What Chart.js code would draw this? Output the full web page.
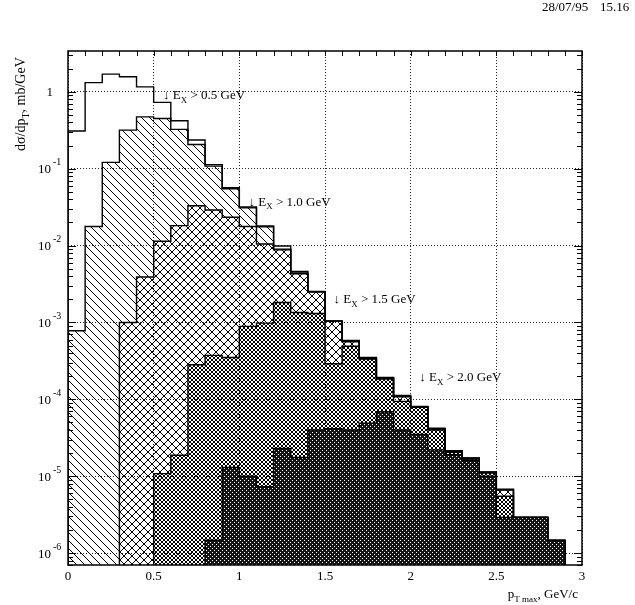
<!DOCTYPE html>
<html>
<head>
<meta charset="utf-8">
<title>pT max spectra</title>
<script src="https://cdn.jsdelivr.net/npm/chart.js@4"></script>
<style>
  html, body { margin: 0; padding: 0; background: #fff; }
</style>
</head>
<body>
<canvas id="chart" width="635" height="605"></canvas>
<script>
// bins of 0.1 GeV/c (left edges)
const binLeft = [0.0, 0.1, 0.2, 0.3, 0.4, 0.5, 0.6, 0.7, 0.8, 0.9,
                 1.0, 1.1, 1.2, 1.3, 1.4, 1.5, 1.6, 1.7, 1.8, 1.9,
                 2.0, 2.1, 2.2, 2.3, 2.4, 2.5, 2.6, 2.7, 2.8];
const binWidth = 0.1;

// d(sigma)/dpT, mb/GeV
const totalAll = [0.31, 1.32, 1.70, 1.57, 1.16, 0.73, 0.42, 0.236, 0.113, 0.0565,
                  0.0318, 0.018, 0.0099, 0.0046, 0.00253, 0.00105, 5.84e-4, 3.5e-4, 1.93e-4, 1.12e-4,
                  8.1e-5, 4.2e-5, 2.15e-5, 1.73e-5, 1.14e-5, 6.8e-6, 2.9e-6, 2.9e-6, 1.46e-6];
const ex05 = [7.8e-4, 0.0177, 0.121, 0.318, 0.473, 0.451, 0.325, 0.207, 0.108, 0.055,
              0.031, 0.0175, 0.009, 0.0044, 0.0025, 0.00104, 5.7e-4, 3.45e-4, 1.9e-4, 1.1e-4,
              8.0e-5, 4.15e-5, 2.12e-5, 1.71e-5, 1.13e-5, 6.7e-6, 2.9e-6, 2.9e-6, 1.46e-6];
const ex10 = [null, null, null, 1.0e-3, 0.0039, 0.0114, 0.0182, 0.033, 0.029, 0.0234,
              0.0177, 0.0105, 0.0088, 0.0043, 0.0025, 0.00104, 5.6e-4, 3.4e-4, 1.88e-4, 1.08e-4,
              7.9e-5, 4.1e-5, 2.1e-5, 1.7e-5, 1.12e-5, 6.6e-6, 2.9e-6, 2.9e-6, 1.46e-6];
const ex15 = [null, null, null, null, null, 1.08e-5, 1.87e-5, 2.82e-4, 3.73e-4, 3.5e-4,
              8.9e-4, 9.8e-4, 1.82e-3, 1.35e-3, 1.31e-3, 2.9e-4, 4.9e-4, 3.35e-4, 1.84e-4, 9.4e-5,
              7.9e-5, 4.0e-5, 2.05e-5, 1.67e-5, 1.1e-5, 5.5e-6, 2.9e-6, 2.9e-6, 1.46e-6];
const ex20 = [null, null, null, null, null, null, null, null, 1.47e-6, 1.3e-5,
              1.0e-5, 7.3e-6, 2.3e-5, 1.75e-5, 4.0e-5, 4.15e-5, 4.0e-5, 4.9e-5, 6.9e-5, 4.0e-5,
              3.5e-5, 2.2e-5, 1.9e-5, 1.6e-5, 1.0e-5, 2.9e-6, 2.9e-6, 2.9e-6, 1.46e-6];

// axis ticks
const xTickStep = 0.5;
const yDecades = [1e-6, 1e-5, 1e-4, 1e-3, 1e-2, 1e-1, 1];
const yMin = 7e-7;
const yMax = 3.4;

// cut labels (arrow points down onto the histogram)
const cutNames = ['0.5', '1.0', '1.5', '2.0'];
const cutAtX = [0.555, 1.054, 1.55, 2.05];
const cutAtY = [0.93, 0.038, 2.07e-3, 2.0e-4];

const FONT = '"Liberation Serif", "Times New Roman", serif';

// turn bin contents into a closed step outline
function stepPoints(vals) {
    const first = vals.findIndex(v => v !== null);
    const pts = [{ x: binLeft[first], y: yMin }];
    for (let i = first; i < vals.length; i++) {
        pts.push({ x: binLeft[i], y: vals[i] });
    }
    pts.push({ x: binLeft[vals.length - 1] + binWidth, y: yMin });
    return pts;
}

// pixel hatch tiles, transparent so layers add up like on the plotter
function hatch(period, dirs) {
    const c = document.createElement('canvas');
    c.width = c.height = period;
    const g = c.getContext('2d');
    g.fillStyle = '#000';
    for (let i = 0; i < period; i++) {
        if (dirs.indexOf('\\') >= 0) g.fillRect(i, i, 1, 1);
        if (dirs.indexOf('/') >= 0) g.fillRect(i, period - 1 - i, 1, 1);
    }
    return g.createPattern(c, 'repeat');
}

function darkTile() {
    const c = document.createElement('canvas');
    c.width = c.height = 4;
    const g = c.getContext('2d');
    g.fillStyle = '#151515';
    g.fillRect(0, 0, 4, 4);
    g.fillStyle = '#fff';
    g.fillRect(0, 0, 1, 1);
    g.fillRect(2, 2, 1, 1);
    return g.createPattern(c, 'repeat');
}

function layer(vals, fill, order) {
    return {
        data: stepPoints(vals),
        stepped: 'before',
        borderColor: '#000',
        borderWidth: 1.4,
        pointRadius: 0,
        backgroundColor: fill || 'rgba(0,0,0,0)',
        fill: fill ? 'start' : false,
        order: order
    };
}

// text with sub/superscripts: parts = [[text, 'n'|'sub'|'sup'], ...]
function richText(ctx, parts, x, y, align, size) {
    const small = Math.round(size * 0.7);
    let w = 0;
    parts.forEach(p => {
        ctx.font = (p[1] === 'n' ? size : small) + 'px ' + FONT;
        w += ctx.measureText(p[0]).width;
    });
    let cx = align === 'right' ? x - w : (align === 'center' ? x - w / 2 : x);
    ctx.textAlign = 'left';
    ctx.textBaseline = 'alphabetic';
    parts.forEach(p => {
        ctx.font = (p[1] === 'n' ? size : small) + 'px ' + FONT;
        const dy = p[1] === 'sub' ? size * 0.3 : (p[1] === 'sup' ? -size * 0.55 : 0);
        ctx.fillText(p[0], cx, y + dy);
        cx += ctx.measureText(p[0]).width;
    });
}

const decorations = {
    id: 'decorations',
    afterDraw(chart) {
        const ctx = chart.ctx;
        const a = chart.chartArea;
        const xs = chart.scales.x;
        const ys = chart.scales.y;
        ctx.save();
        ctx.fillStyle = '#000';
        ctx.strokeStyle = '#000';

        // frame
        ctx.lineWidth = 1.5;
        ctx.strokeRect(a.left, a.top, a.right - a.left, a.bottom - a.top);

        // ticks on top (every bin) and log ticks left/right
        ctx.lineWidth = 1;
        ctx.beginPath();
        for (let i = 0; i <= 30; i++) {
            const px = Math.round(xs.getPixelForValue(i / 10)) + 0.5;
            ctx.moveTo(px, a.top);
            ctx.lineTo(px, a.top + 5);
        }
        for (let e = -7; e <= 0; e++) {
            for (let m = 1; m <= 9; m++) {
                const v = m * Math.pow(10, e);
                if (v < yMin || v > yMax) continue;
                const py = Math.round(ys.getPixelForValue(v)) + 0.5;
                const len = m === 1 ? 8 : 5;
                ctx.moveTo(a.left, py);
                ctx.lineTo(a.left + len, py);
                ctx.moveTo(a.right, py);
                ctx.lineTo(a.right - len, py);
            }
        }
        ctx.stroke();

        // y tick labels
        yDecades.forEach(v => {
            const py = ys.getPixelForValue(v);
            const e = Math.round(Math.log10(v));
            ctx.textBaseline = 'alphabetic';
            ctx.font = '13px ' + FONT;
            if (e === 0) {
                ctx.textAlign = 'right';
                ctx.fillText('1', 53, py + 4.5);
            } else {
                ctx.textAlign = 'right';
                ctx.fillText('10', 51, py + 4.5);
                ctx.textAlign = 'left';
                ctx.font = '10px ' + FONT;
                ctx.fillText(String(e), 53, py - 3.5);
            }
        });

        // cut labels
        cutNames.forEach((n, i) => {
            const px = xs.getPixelForValue(cutAtX[i]);
            const py = ys.getPixelForValue(cutAtY[i]);
            richText(ctx, [['\u2193 E', 'n'], ['X', 'sub'], [' > ' + n + ' GeV', 'n']], px, py + 4.5, 'left', 13);
        });

        // axis titles
        richText(ctx, [['p', 'n'], ['T max', 'sub'], [', GeV/c', 'n']], 578, 598, 'right', 13);
        ctx.save();
        ctx.translate(25, 151);
        ctx.rotate(-Math.PI / 2);
        richText(ctx, [['d\u03c3/dp', 'n'], ['T', 'sub'], [', mb/GeV', 'n']], 0, 0, 'left', 14);
        ctx.restore();

        // date stamp
        ctx.font = '13px ' + FONT;
        ctx.textAlign = 'left';
        ctx.textBaseline = 'alphabetic';
        ctx.fillText('28/07/95', 542, 11);
        ctx.fillText('15.16', 600, 11);
        ctx.restore();
    }
};

const chart = new Chart(document.getElementById('chart'), {
    type: 'line',
    data: {
        datasets: [
            layer(totalAll, null, 5),
            layer(ex05, hatch(8, '\\'), 4),
            layer(ex10, hatch(8, '\\/'), 3),
            layer(ex15, hatch(4, '\\/'), 2),
            layer(ex20, darkTile(), 1)
        ]
    },
    options: {
        responsive: false,
        animation: false,
        devicePixelRatio: 1,
        layout: { padding: { top: 51, right: 53, left: 0, bottom: 0 } },
        plugins: { legend: { display: false }, tooltip: { enabled: false } },
        scales: {
            x: {
                type: 'linear',
                min: 0,
                max: 3,
                ticks: {
                    stepSize: xTickStep,
                    color: '#000',
                    padding: 4,
                    maxRotation: 0,
                    font: { family: FONT, size: 13 },
                    callback: v => String(Math.round(v * 10) / 10)
                },
                grid: { color: '#222', lineWidth: 1, drawTicks: false },
                border: { display: false, dash: [1, 2] },
                afterFit: s => { s.height = 40; }
            },
            y: {
                type: 'logarithmic',
                min: yMin,
                max: yMax,
                ticks: { display: false },
                afterBuildTicks: s => { s.ticks = yDecades.map(v => ({ value: v })); },
                grid: { color: '#222', lineWidth: 1, drawTicks: false },
                border: { display: false, dash: [1, 2] },
                afterFit: s => { s.width = 68; }
            }
        }
    },
    plugins: [decorations]
});
</script>
</body>
</html>
